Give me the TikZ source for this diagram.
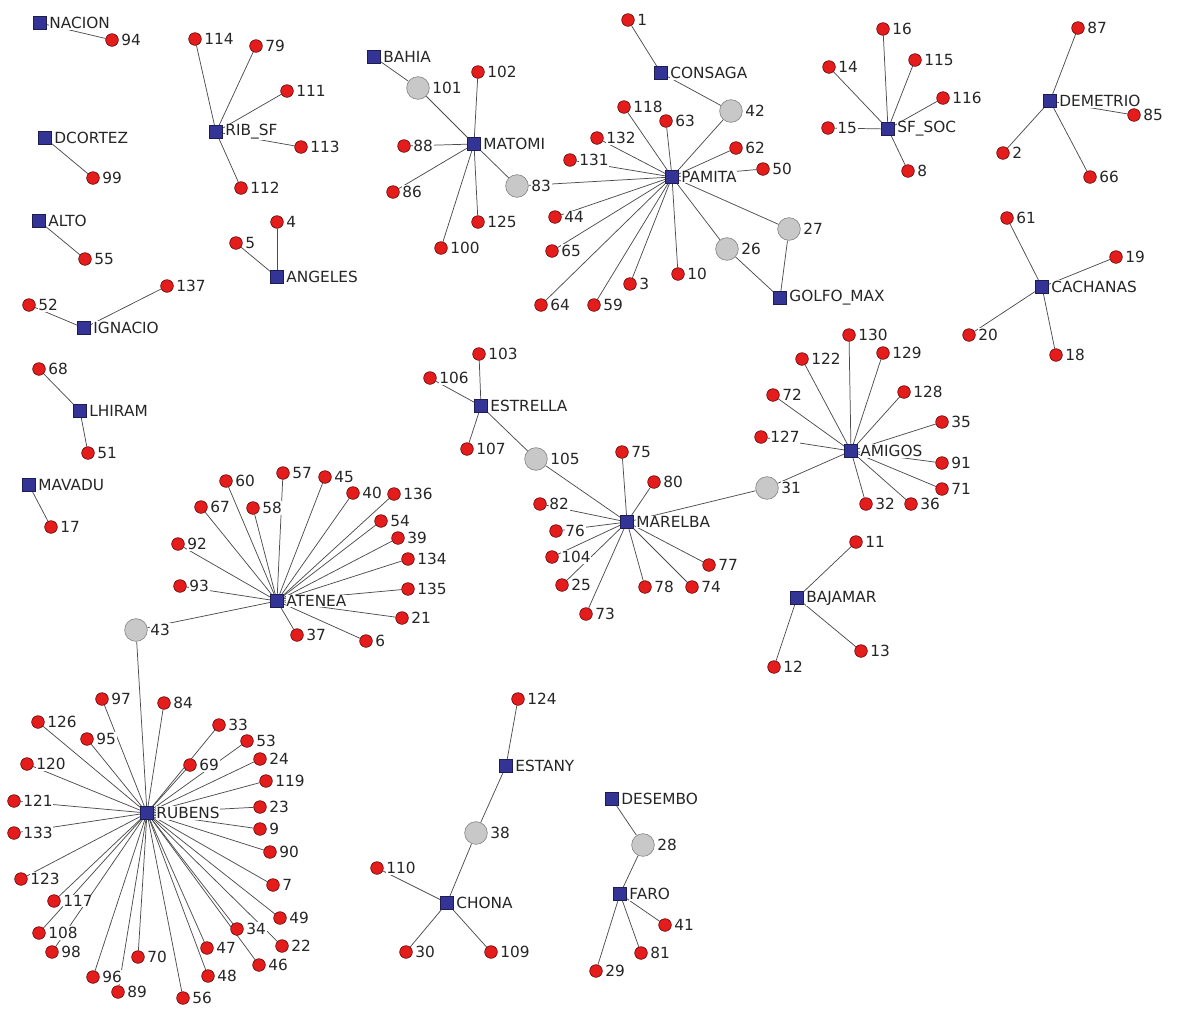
\documentclass[tikz,border=0pt]{standalone}
\usepackage{fontspec}
\setmainfont{DejaVu Sans}
\usetikzlibrary{backgrounds}
\definecolor{nred}{RGB}{228,28,28}
\definecolor{nblue}{RGB}{52,52,150}
\definecolor{ngray}{RGB}{200,200,200}
\newcommand\Rn[3]{\node[rn,label=right:#1] (r#1) at (#2,#3) {};}
\newcommand\Gn[3]{\node[gn,label=right:#1] (g#1) at (#2,#3) {};}
\newcommand\Hb[4]{\node[hub,label=right:#4] (#1) at (#2,#3) {};}
\begin{document}
\begin{tikzpicture}[x=0.75pt,y=-0.75pt,
 rn/.style={circle,fill=nred,draw=red!35!black,line width=0.4pt,minimum size=9.5pt,inner sep=0pt},
 gn/.style={circle,fill=ngray,draw=black!45,line width=0.5pt,minimum size=17pt,inner sep=0pt},
 hub/.style={rectangle,fill=nblue,draw=nblue!55!black,line width=0.4pt,minimum size=9.5pt,inner sep=0pt},
 every label/.style={font=\fontsize{11.5}{12}\selectfont,fill=white,inner sep=0.6pt,text=black!85},
 label distance=1.3pt,
 edgeln/.style={draw=black!70,line width=0.55pt}]
\useasboundingbox (0,0) rectangle (1200,1015);
% hubs
\Hb{NACION}{40}{23}{NACION}
\Hb{RIBSF}{216}{132}{RIB\_SF}
\Hb{BAHIA}{374}{57}{BAHIA}
\Hb{MATOMI}{474}{144}{MATOMI}
\Hb{CONSAGA}{661}{73}{CONSAGA}
\Hb{PAMITA}{672}{177}{PAMITA}
\Hb{SFSOC}{888}{129}{SF\_SOC}
\Hb{DEMETRIO}{1050}{101}{DEMETRIO}
\Hb{DCORTEZ}{45}{138}{DCORTEZ}
\Hb{ALTO}{39}{221}{ALTO}
\Hb{ANGELES}{277}{277}{ANGELES}
\Hb{IGNACIO}{84}{328}{IGNACIO}
\Hb{LHIRAM}{80}{411}{LHIRAM}
\Hb{MAVADU}{29}{485}{MAVADU}
\Hb{ESTRELLA}{481}{406}{ESTRELLA}
\Hb{GOLFOMAX}{780}{298}{GOLFO\_MAX}
\Hb{CACHANAS}{1042}{287}{CACHANAS}
\Hb{AMIGOS}{851}{451}{AMIGOS}
\Hb{MARELBA}{627}{522}{MARELBA}
\Hb{BAJAMAR}{797}{598}{BAJAMAR}
\Hb{ATENEA}{277}{601}{ATENEA}
\Hb{RUBENS}{147}{813}{RUBENS}
\Hb{ESTANY}{506}{766}{ESTANY}
\Hb{DESEMBO}{612}{799}{DESEMBO}
\Hb{FARO}{620}{894}{FARO}
\Hb{CHONA}{447}{903}{CHONA}
% gray
\Gn{101}{418}{88}
\Gn{83}{517}{186}
\Gn{42}{731}{111}
\Gn{26}{727}{249}
\Gn{27}{789}{229}
\Gn{105}{536}{459}
\Gn{31}{767}{488}
\Gn{43}{136}{630}
\Gn{38}{476}{833}
\Gn{28}{643}{845}
% red
\Rn{94}{112}{40}
\Rn{114}{195}{39}\Rn{79}{256}{46}\Rn{111}{287}{91}\Rn{113}{301}{147}\Rn{112}{241}{188}
\Rn{99}{93}{178}
\Rn{55}{85}{259}
\Rn{4}{277}{222}\Rn{5}{236}{243}
\Rn{137}{167}{286}\Rn{52}{29}{305}
\Rn{102}{478}{72}\Rn{88}{404}{146}\Rn{86}{393}{192}\Rn{125}{478}{222}\Rn{100}{441}{248}
\Rn{1}{628}{20}
\Rn{118}{624}{107}\Rn{63}{666}{121}\Rn{132}{597}{138}\Rn{62}{736}{148}\Rn{131}{570}{160}
\Rn{50}{763}{169}\Rn{44}{555}{217}\Rn{65}{552}{251}\Rn{10}{678}{274}\Rn{3}{630}{284}
\Rn{64}{541}{305}\Rn{59}{594}{305}
\Rn{16}{883}{29}\Rn{14}{829}{67}\Rn{115}{915}{60}\Rn{116}{943}{98}\Rn{15}{828}{128}\Rn{8}{908}{171}
\Rn{87}{1078}{28}\Rn{85}{1134}{115}\Rn{2}{1003}{153}\Rn{66}{1090}{177}
\Rn{61}{1007}{218}\Rn{19}{1116}{257}\Rn{20}{969}{335}\Rn{18}{1056}{355}
\Rn{68}{39}{369}\Rn{51}{88}{453}\Rn{17}{51}{527}
\Rn{103}{479}{354}\Rn{106}{430}{378}\Rn{107}{467}{449}
\Rn{75}{622}{452}\Rn{80}{654}{482}\Rn{82}{540}{504}\Rn{76}{556}{531}\Rn{104}{552}{557}
\Rn{25}{562}{585}\Rn{73}{586}{614}\Rn{78}{645}{587}\Rn{74}{692}{587}\Rn{77}{709}{565}
\Rn{130}{849}{335}\Rn{122}{802}{359}\Rn{129}{883}{353}\Rn{72}{773}{395}\Rn{128}{904}{392}
\Rn{35}{942}{422}\Rn{127}{761}{437}\Rn{91}{942}{463}\Rn{71}{942}{489}\Rn{32}{866}{504}\Rn{36}{911}{504}
\Rn{11}{856}{542}\Rn{13}{861}{651}\Rn{12}{774}{667}
\Rn{60}{226}{481}\Rn{57}{283}{473}\Rn{45}{325}{477}\Rn{40}{353}{493}\Rn{136}{394}{494}
\Rn{67}{201}{507}\Rn{58}{253}{508}\Rn{54}{381}{521}\Rn{39}{398}{538}\Rn{92}{178}{544}
\Rn{134}{408}{559}\Rn{93}{180}{586}\Rn{135}{408}{589}\Rn{21}{402}{618}\Rn{37}{297}{635}\Rn{6}{366}{641}
\Rn{97}{102}{699}\Rn{84}{164}{703}\Rn{126}{38}{722}\Rn{33}{219}{725}\Rn{95}{87}{739}
\Rn{53}{247}{741}\Rn{69}{190}{765}\Rn{24}{260}{759}\Rn{120}{27}{764}\Rn{119}{266}{781}
\Rn{121}{14}{801}\Rn{23}{260}{807}\Rn{133}{14}{833}\Rn{9}{260}{829}\Rn{90}{270}{852}
\Rn{123}{21}{879}\Rn{7}{273}{885}\Rn{117}{54}{901}\Rn{49}{280}{918}\Rn{34}{237}{929}
\Rn{108}{39}{933}\Rn{22}{282}{946}\Rn{98}{52}{952}\Rn{47}{207}{948}\Rn{70}{138}{957}
\Rn{46}{259}{965}\Rn{96}{93}{977}\Rn{48}{208}{976}\Rn{89}{118}{992}\Rn{56}{183}{998}
\Rn{124}{518}{699}\Rn{110}{377}{868}\Rn{30}{406}{952}\Rn{109}{491}{952}
\Rn{41}{665}{925}\Rn{81}{641}{953}\Rn{29}{596}{971}
\begin{pgfonlayer}{background}
\fill[white] (0,0) rectangle (1200,1015);
\foreach \a/\b in {NACION/r94,
 RIBSF/r114,RIBSF/r79,RIBSF/r111,RIBSF/r113,RIBSF/r112,
 DCORTEZ/r99,ALTO/r55,ANGELES/r4,ANGELES/r5,IGNACIO/r52,IGNACIO/r137,
 LHIRAM/r68,LHIRAM/r51,MAVADU/r17,
 BAHIA/g101,g101/MATOMI,
 MATOMI/r102,MATOMI/r88,MATOMI/r86,MATOMI/r125,MATOMI/r100,MATOMI/g83,g83/PAMITA,
 CONSAGA/r1,CONSAGA/g42,g42/PAMITA,
 PAMITA/r118,PAMITA/r63,PAMITA/r132,PAMITA/r131,PAMITA/r62,PAMITA/r50,PAMITA/r44,
 PAMITA/r65,PAMITA/r64,PAMITA/r59,PAMITA/r3,PAMITA/r10,PAMITA/g26,PAMITA/g27,
 g26/GOLFOMAX,g27/GOLFOMAX,
 SFSOC/r16,SFSOC/r14,SFSOC/r115,SFSOC/r116,SFSOC/r15,SFSOC/r8,
 DEMETRIO/r87,DEMETRIO/r85,DEMETRIO/r2,DEMETRIO/r66,
 CACHANAS/r61,CACHANAS/r19,CACHANAS/r20,CACHANAS/r18,
 ESTRELLA/r103,ESTRELLA/r106,ESTRELLA/r107,ESTRELLA/g105,g105/MARELBA,
 MARELBA/r75,MARELBA/r80,MARELBA/r82,MARELBA/r76,MARELBA/r104,MARELBA/r25,
 MARELBA/r73,MARELBA/r78,MARELBA/r74,MARELBA/r77,MARELBA/g31,g31/AMIGOS,
 AMIGOS/r130,AMIGOS/r122,AMIGOS/r129,AMIGOS/r72,AMIGOS/r128,AMIGOS/r35,
 AMIGOS/r127,AMIGOS/r91,AMIGOS/r71,AMIGOS/r32,AMIGOS/r36,
 BAJAMAR/r11,BAJAMAR/r12,BAJAMAR/r13,
 ATENEA/r60,ATENEA/r57,ATENEA/r45,ATENEA/r40,ATENEA/r136,ATENEA/r67,ATENEA/r58,
 ATENEA/r54,ATENEA/r39,ATENEA/r92,ATENEA/r134,ATENEA/r93,ATENEA/r135,ATENEA/r21,
 ATENEA/r37,ATENEA/r6,ATENEA/g43,g43/RUBENS,
 RUBENS/r97,RUBENS/r84,RUBENS/r126,RUBENS/r33,RUBENS/r95,RUBENS/r53,RUBENS/r69,
 RUBENS/r24,RUBENS/r120,RUBENS/r119,RUBENS/r121,RUBENS/r23,RUBENS/r133,RUBENS/r9,
 RUBENS/r90,RUBENS/r123,RUBENS/r7,RUBENS/r117,RUBENS/r49,RUBENS/r34,RUBENS/r108,
 RUBENS/r22,RUBENS/r98,RUBENS/r47,RUBENS/r70,RUBENS/r46,RUBENS/r96,RUBENS/r48,
 RUBENS/r89,RUBENS/r56,
 ESTANY/r124,ESTANY/g38,g38/CHONA,CHONA/r110,CHONA/r30,CHONA/r109,
 DESEMBO/g28,g28/FARO,FARO/r41,FARO/r81,FARO/r29}
 \draw[edgeln] (\a) -- (\b);
\end{pgfonlayer}
\end{tikzpicture}
\end{document}
